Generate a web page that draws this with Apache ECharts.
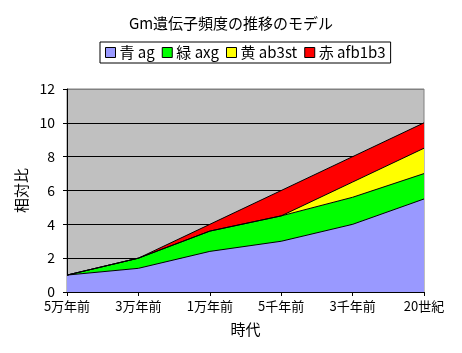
<!DOCTYPE html>
<html>
<head>
<meta charset="utf-8">
<script src="https://cdn.jsdelivr.net/npm/echarts@6/dist/echarts.min.js"></script>
<style>
  html, body { margin: 0; padding: 0; background: #fff; }
  #chart { width: 462px; height: 353px; }
</style>
</head>
<body>
<div id="chart"></div>
<script>
// 時代
const categories = ['5万年前', '3万年前', '1万年前', '5千年前', '3千年前', '20世紀'];
// 積み上げ値
const blueAg = [1, 1.4, 2.4, 3, 4, 5.5];
const greenAxg = [0, 0.6, 1.2, 1.5, 1.6, 1.5];
const yellowAb3st = [0, 0, 0, 0, 0.9, 1.5];
const redAfb1b3 = [0, 0, 0.4, 1.5, 1.5, 1.5];
const yTicks = [0, 2, 4, 6, 8, 10, 12];

const font = "'Noto Sans CJK JP', sans-serif";

function areaSeries(name, data, color) {
    return {
        name: name,
        type: 'line',
        stack: 'total',
        data: data,
        symbol: 'none',
        animation: false,
        itemStyle: { color: color, borderColor: '#000', borderWidth: 1 },
        lineStyle: { color: '#000', width: 1 },
        areaStyle: { color: color, opacity: 1 }
    };
}

let myChart = echarts.init(document.getElementById('chart'));
myChart.setOption({
    backgroundColor: '#fff',
    textStyle: { fontFamily: font, color: '#000' },
    title: {
        text: 'Gm遺伝子頻度の推移のモデル',
        left: 'center',
        top: 11,
        textStyle: { fontSize: 15, fontWeight: 'normal', color: '#000', fontFamily: font }
    },
    legend: {
        left: 100,
        top: 42,
        borderColor: '#000',
        borderWidth: 1,
        padding: [3, 5, 3, 5],
        itemGap: 7,
        itemWidth: 10,
        itemHeight: 10,
        icon: 'rect',
        itemStyle: { borderColor: '#000', borderWidth: 1 },
        textStyle: { fontSize: 15, color: '#000', fontFamily: font, padding: [0, 0, 0, -1] },
        data: ['青 ag', '緑 axg', '黄 ab3st', '赤 afb1b3']
    },
    grid: {
        left: 67,
        right: 38,
        top: 89,
        bottom: 61,
        show: true,
        backgroundColor: '#C0C0C0',
        borderColor: '#808080',
        borderWidth: 1
    },
    xAxis: {
        type: 'category',
        data: categories,
        boundaryGap: false,
        name: '時代',
        nameLocation: 'middle',
        nameGap: 30,
        nameTextStyle: { fontSize: 15, color: '#000', fontFamily: font },
        axisLine: { lineStyle: { color: '#000', width: 1 } },
        axisTick: { show: true, length: 4, lineStyle: { color: '#000' } },
        axisLabel: { fontSize: 13, color: '#000', margin: 8, fontFamily: font }
    },
    yAxis: {
        type: 'value',
        min: 0,
        max: 12,
        interval: 2,
        name: '相対比',
        nameLocation: 'middle',
        nameRotate: 90,
        nameGap: 33,
        nameTextStyle: { fontSize: 15, color: '#000', fontFamily: font },
        axisLine: { show: true, lineStyle: { color: '#000', width: 1 } },
        axisTick: { show: true, length: 4, lineStyle: { color: '#000' } },
        axisLabel: {
            fontSize: 14,
            color: '#000',
            margin: 12,
            fontFamily: font,
            formatter: v => (yTicks.indexOf(v) >= 0 ? String(v) : '')
        },
        splitLine: {
            show: true,
            lineStyle: { color: ['#000', '#000', '#000', '#000', '#000', '#000', '#808080'], width: 1 }
        }
    },
    series: [
        areaSeries('青 ag', blueAg, '#9999FF'),
        areaSeries('緑 axg', greenAxg, '#00FF00'),
        areaSeries('黄 ab3st', yellowAb3st, '#FFFF00'),
        areaSeries('赤 afb1b3', redAfb1b3, '#FF0000')
    ]
});
</script>
</body>
</html>
